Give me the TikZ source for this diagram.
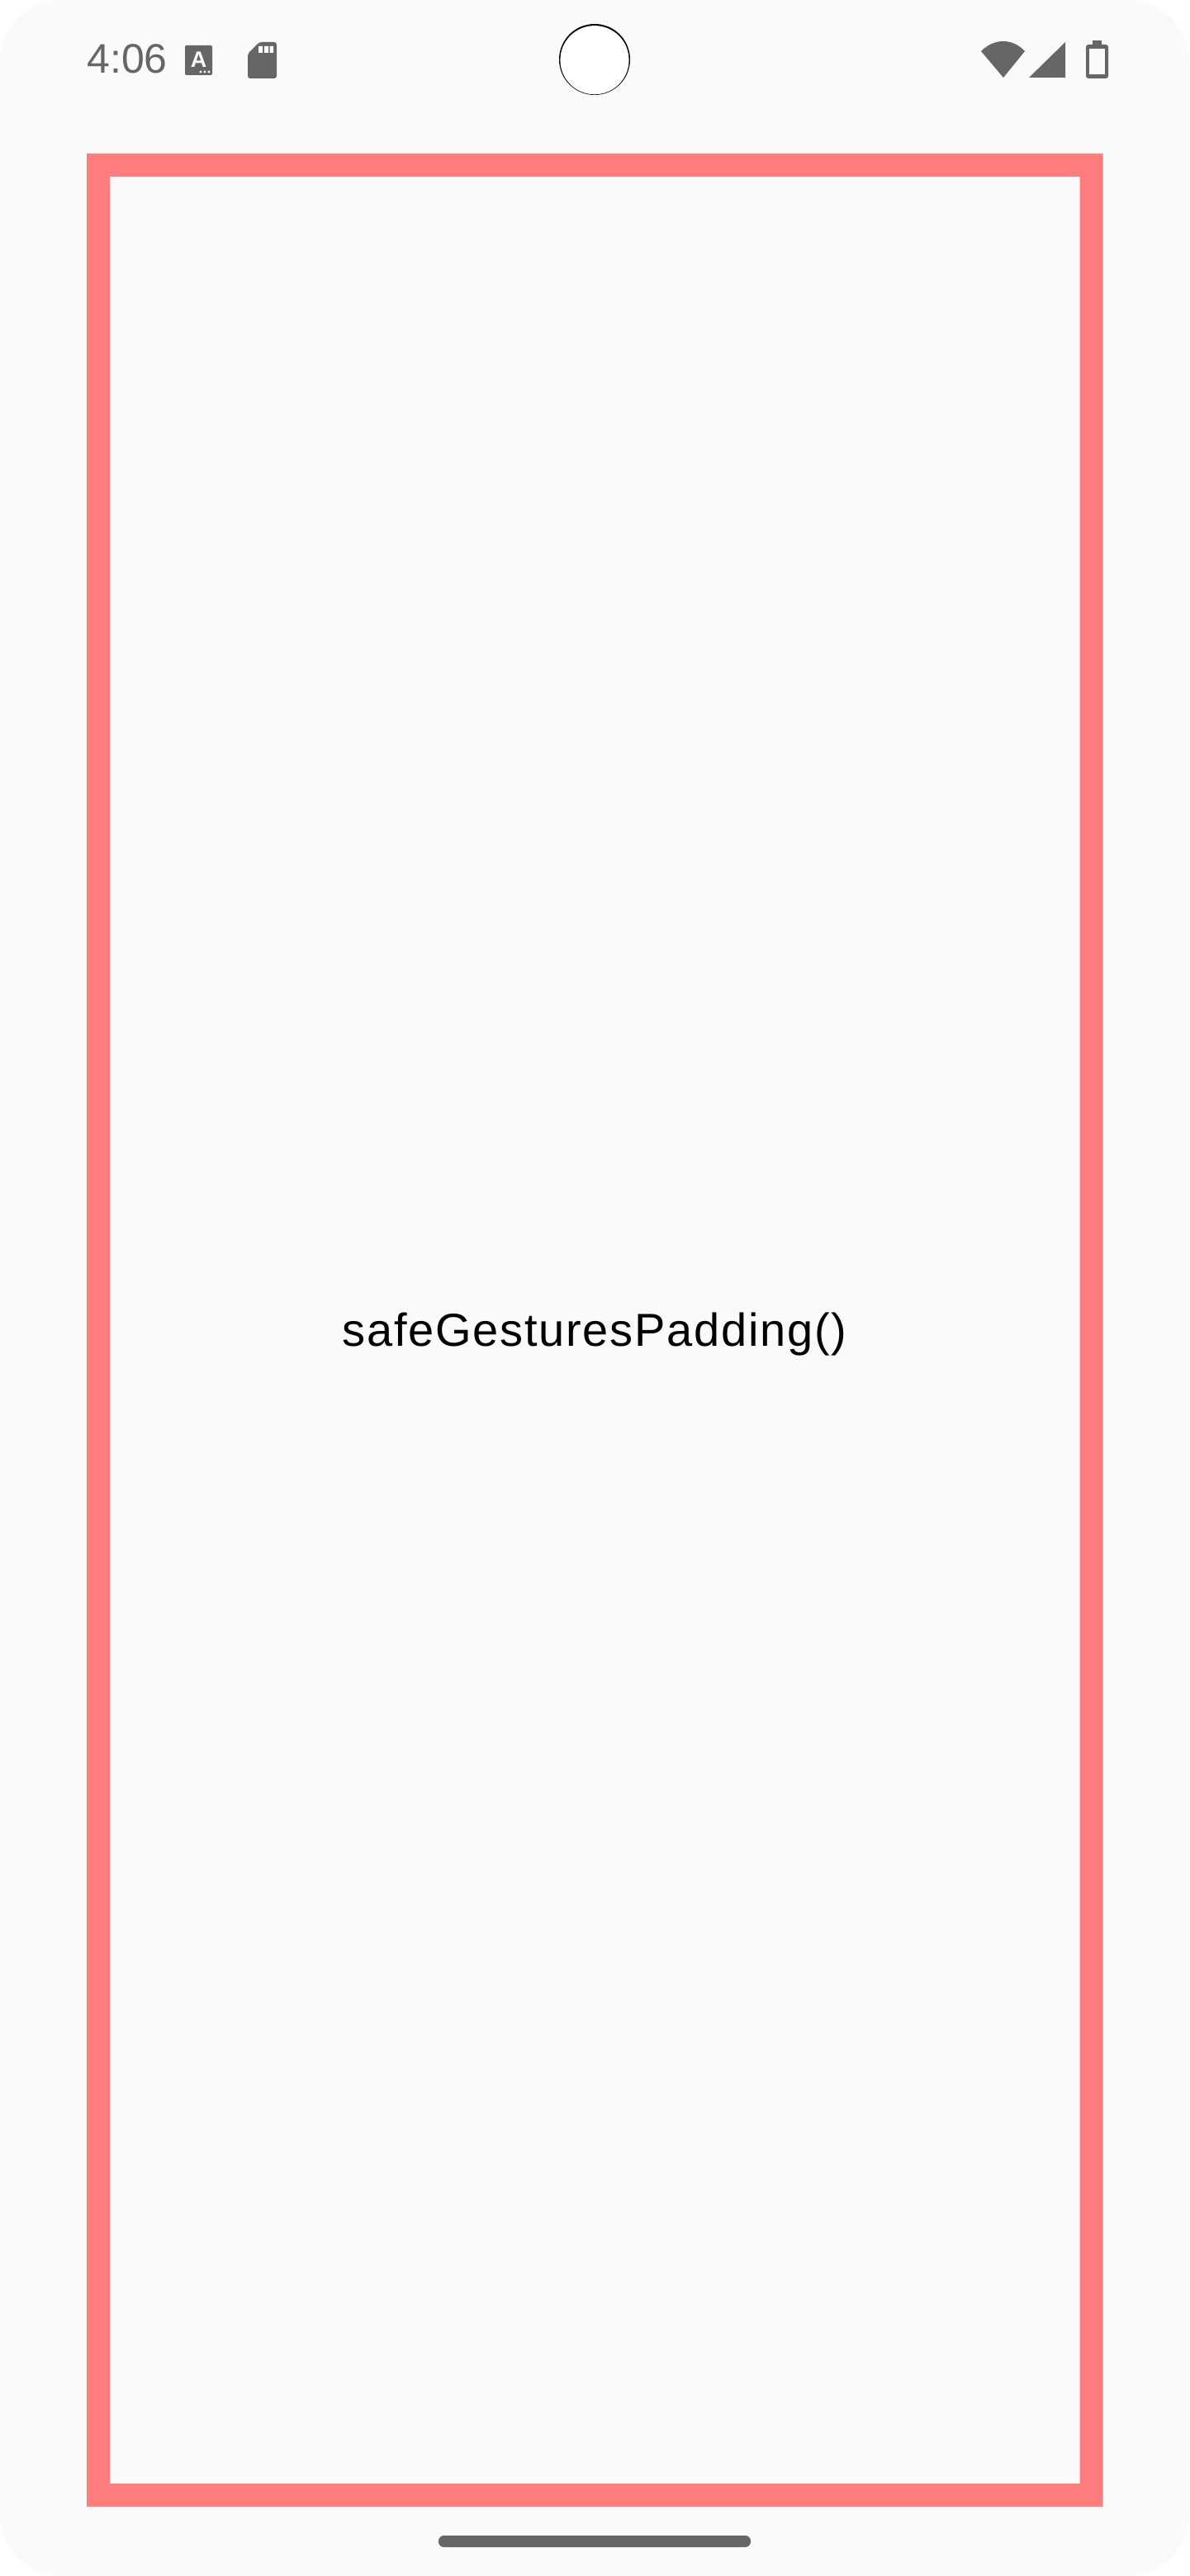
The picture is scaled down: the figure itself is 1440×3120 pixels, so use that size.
\documentclass[tikz,border=0pt]{standalone}
\usepackage{fontspec}
\setmainfont{Liberation Sans}
\newfontfamily\spacedfont[LetterSpace=3.1]{Liberation Sans}
\definecolor{screenbg}{HTML}{FAFAFA}
\definecolor{iconcol}{HTML}{666666}
\definecolor{padred}{HTML}{FF7D7D}
\tikzset{
  icon/.style={fill=iconcol,draw=none},
  knock/.style={fill=screenbg,draw=none},
  label/.style={inner sep=0pt,anchor=base}
}
\begin{document}
\begin{tikzpicture}[x=1pt,y=-1pt]
\useasboundingbox (0,0) rectangle (1440,3120);
\fill[white] (0,0) rectangle (1440,3120);
\fill[screenbg,rounded corners=75pt] (0,0) rectangle (1440,3120);
% padding frame
\fill[padred,even odd rule] (105,186) rectangle (1335.5,3036) (133,214) rectangle (1307.5,3008);
% camera
\fill[black] (720,72) circle[radius=43];
\fill[white] (720,72.7) circle[radius=41.6];
% time
\node[label,text=iconcol,font=\fontsize{50}{56}\selectfont] (time) at (154,89) {4:06};
% A icon
\fill[icon,rounded corners=2pt] (224,55) rectangle (257,91);
\node[label,text=screenbg,font=\fontsize{27}{30}\selectfont\bfseries] (aglyph) at (240.5,82) {A};
\foreach \x in {243,248,253} \fill[screenbg] (\x,87) circle[radius=1.6];
% SD card
\fill[icon,rounded corners=3pt] (300,65) -- (314,51) -- (335,51) -- (335,95) -- (300,95) -- cycle;
\fill[knock] (313,56) rectangle (318,64) (320,56) rectangle (325,64) (326.5,56) rectangle (331,64);
% wifi
\fill[icon] (1215,94) -- (1188,62) .. controls (1204,46) and (1226,46) .. (1241,62) -- cycle;
% signal
\fill[icon] (1246,94) -- (1290,94) -- (1290,51) -- cycle;
% battery
\fill[icon] (1323,49) rectangle (1334,55);
\fill[icon,rounded corners=3pt] (1315,54) rectangle (1342,95);
\fill[knock] (1319,59) rectangle (1338,90);
% label
\node[label,text=black,font=\spacedfont\fontsize{56}{64}\selectfont] (title) at (720,1630) {safeGesturesPadding()};
% home bar
\fill[icon,rounded corners=6.5pt] (531,3071) rectangle (909,3085);
\end{tikzpicture}
\end{document}
